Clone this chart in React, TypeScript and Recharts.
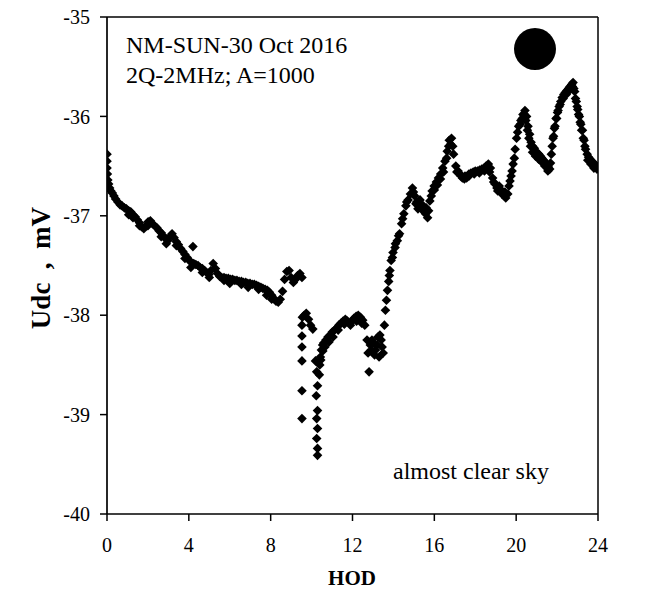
import React from 'react'
import {
  ScatterChart,
  Scatter,
  XAxis,
  YAxis,
  ReferenceLine,
} from 'recharts'

// hour of day, Udc (mV)
const morningPoints: [number, number][] = [
  [0.0, -36.38], [0.0, -36.45], [0.0, -36.52], [0.02, -36.58], [0.04, -36.64],
  [0.08, -36.68], [0.13, -36.72], [0.19, -36.75], [0.26, -36.77], [0.34, -36.8],
  [0.42, -36.83], [0.53, -36.86], [0.64, -36.89], [0.74, -36.9], [0.85, -36.92],
  [0.95, -36.93], [1.06, -36.95], [1.16, -36.96], [1.27, -36.99], [1.38, -37.01],
  [1.48, -37.04], [1.59, -37.07], [1.69, -37.11], [1.8, -37.13], [1.91, -37.1],
  [2.01, -37.06], [2.12, -37.05], [2.22, -37.08], [2.33, -37.1], [2.44, -37.12],
  [2.54, -37.15], [2.65, -37.17], [2.75, -37.2], [2.86, -37.23], [2.97, -37.25],
  [3.07, -37.21], [3.18, -37.18], [3.28, -37.22], [3.39, -37.26], [3.49, -37.29],
  [3.6, -37.33], [3.71, -37.36], [3.81, -37.39], [3.92, -37.42], [4.02, -37.45],
  [4.13, -37.47], [4.2, -37.31], [4.24, -37.48], [4.34, -37.49], [4.45, -37.5],
  [4.55, -37.52], [4.66, -37.53], [4.77, -37.55], [4.87, -37.57], [4.98, -37.59],
  [5.08, -37.55], [5.19, -37.48], [5.3, -37.53], [5.4, -37.58], [5.51, -37.61],
  [5.61, -37.62], [5.72, -37.62], [5.82, -37.63], [5.93, -37.63], [6.04, -37.64],
  [6.14, -37.64], [6.25, -37.65], [6.35, -37.65], [6.46, -37.66], [6.57, -37.66],
  [6.67, -37.67], [6.78, -37.67], [6.88, -37.68], [6.99, -37.68], [7.1, -37.69],
  [7.2, -37.69], [7.31, -37.7], [7.41, -37.71], [7.52, -37.72], [7.62, -37.73],
  [7.73, -37.74], [7.84, -37.75], [7.94, -37.77], [8.05, -37.8], [8.15, -37.83],
  [8.26, -37.86], [8.37, -37.87], [8.47, -37.84], [8.58, -37.76], [8.68, -37.64],
  [8.79, -37.56], [8.9, -37.55], [9.0, -37.62], [9.11, -37.67], [9.21, -37.64],
  [9.32, -37.6], [9.43, -37.58], [9.53, -37.62],
]

// extra morning scatter below the main band
const morningLower: [number, number][] = [
  [1.06, -36.99], [1.27, -37.02], [1.59, -37.1], [2.0, -37.1], [2.65, -37.21],
  [2.9, -37.28], [3.39, -37.3], [3.81, -37.43], [4.1, -37.52], [4.66, -37.57],
  [5.0, -37.62], [5.72, -37.65], [6.0, -37.68], [6.57, -37.69], [6.9, -37.72],
  [7.41, -37.74], [7.8, -37.8], [8.05, -37.84],
]

const dipPoints: [number, number][] = [
  [9.55, -38.02], [9.53, -38.1], [9.53, -38.21], [9.53, -38.32], [9.53, -38.46],
  [9.53, -38.76], [9.53, -39.04], [9.64, -38.0], [9.74, -37.98], [9.85, -38.04],
  [9.95, -38.1], [10.06, -38.14], [10.19, -38.46], [10.25, -38.57], [10.29, -38.71],
  [10.23, -38.81], [10.29, -38.96], [10.25, -39.04], [10.29, -39.14], [10.25, -39.24],
  [10.29, -39.34], [10.29, -39.41], [10.38, -38.6], [10.4, -38.5], [10.43, -38.42],
  [10.48, -38.35], [10.54, -38.3], [10.59, -38.28], [10.7, -38.25], [10.8, -38.22],
  [10.91, -38.2], [11.01, -38.17], [11.12, -38.15], [11.23, -38.13], [11.33, -38.1],
  [11.44, -38.08], [11.54, -38.06], [11.65, -38.04], [11.75, -38.06], [11.86, -38.08],
  [11.97, -38.06], [12.07, -38.03], [12.18, -38.01], [12.28, -38.0], [12.39, -38.02],
  [12.5, -38.05], [12.6, -38.1], [12.71, -38.25], [12.76, -38.38], [12.81, -38.57],
  [12.87, -38.3], [12.92, -38.35], [13.03, -38.28], [13.13, -38.35], [13.24, -38.22],
  [13.34, -38.2], [13.45, -38.32], [13.5, -38.38],
]

// extra scatter around the midday recovery
const dipExtra: [number, number][] = [
  [10.45, -38.45], [10.55, -38.36], [10.65, -38.32], [10.85, -38.27], [11.05, -38.22],
  [11.3, -38.15], [11.6, -38.09], [11.9, -38.1], [12.2, -38.06], [12.45, -38.08],
  [12.95, -38.25], [13.08, -38.4], [13.2, -38.3], [13.3, -38.42], [13.4, -38.25],
]

const afternoonPoints: [number, number][] = [
  [13.56, -38.1], [13.61, -37.95], [13.66, -37.85], [13.71, -37.75], [13.77, -37.66],
  [13.83, -37.55], [13.89, -37.45], [13.98, -37.37], [14.08, -37.32], [14.19, -37.25],
  [14.3, -37.18], [14.4, -37.08], [14.51, -36.98], [14.61, -36.9], [14.72, -36.84],
  [14.83, -36.78], [14.93, -36.72], [15.04, -36.8], [15.14, -36.86], [15.25, -36.88],
  [15.36, -36.92], [15.46, -36.9], [15.57, -36.98], [15.67, -37.02], [15.78, -36.85],
  [15.89, -36.75], [15.99, -36.7], [16.1, -36.66], [16.2, -36.62], [16.31, -36.58],
  [16.41, -36.52], [16.52, -36.45], [16.63, -36.35], [16.73, -36.24], [16.84, -36.22],
  [16.94, -36.38], [17.05, -36.5], [17.16, -36.55], [17.26, -36.58], [17.37, -36.62],
  [17.47, -36.63], [17.58, -36.62], [17.69, -36.58], [17.79, -36.57], [17.9, -36.56],
  [18.0, -36.55], [18.11, -36.55], [18.21, -36.54], [18.32, -36.53], [18.43, -36.52],
  [18.53, -36.5], [18.64, -36.48], [18.74, -36.52], [18.85, -36.62], [18.96, -36.68],
  [19.06, -36.72], [19.17, -36.7], [19.27, -36.74], [19.38, -36.78], [19.49, -36.82],
  [19.59, -36.78], [19.7, -36.65], [19.8, -36.55], [19.91, -36.42], [20.02, -36.22],
  [20.12, -36.1], [20.23, -36.04], [20.33, -35.98], [20.43, -35.94], [20.51, -36.0],
  [20.58, -36.1], [20.66, -36.18], [20.73, -36.26], [20.81, -36.3], [20.89, -36.32],
  [20.96, -36.35], [21.04, -36.37], [21.11, -36.38], [21.19, -36.4], [21.26, -36.42],
  [21.34, -36.44], [21.42, -36.46], [21.49, -36.48], [21.57, -36.51], [21.64, -36.53],
  [21.72, -36.38], [21.8, -36.22], [21.87, -36.12], [21.95, -36.02], [22.02, -35.96],
  [22.1, -35.9], [22.18, -35.85], [22.25, -35.81], [22.33, -35.78], [22.4, -35.76],
  [22.48, -35.74], [22.56, -35.72], [22.63, -35.7], [22.71, -35.68], [22.78, -35.66],
  [22.86, -35.75], [22.94, -35.85], [23.01, -35.93], [23.09, -36.0], [23.16, -36.08],
  [23.24, -36.14], [23.32, -36.24], [23.39, -36.33], [23.47, -36.38], [23.54, -36.41],
  [23.62, -36.43], [23.7, -36.45], [23.77, -36.47], [23.85, -36.48], [23.92, -36.5],
  [24.0, -36.51],
]

// extra afternoon scatter that thickens the band
const afternoonExtra: [number, number][] = [
  [13.8, -37.6], [13.95, -37.42], [14.1, -37.28], [14.25, -37.2], [14.45, -37.03],
  [14.65, -36.86], [14.98, -36.76], [15.1, -36.88], [15.2, -36.93], [15.3, -36.84],
  [15.45, -36.95], [15.6, -36.92], [15.72, -36.95], [15.85, -36.8], [16.0, -36.74],
  [16.15, -36.69], [16.3, -36.63], [16.45, -36.56], [16.6, -36.42], [16.7, -36.3],
  [16.8, -36.28], [16.9, -36.3], [17.1, -36.56], [17.3, -36.6], [17.5, -36.6],
  [17.7, -36.6], [17.95, -36.58], [18.2, -36.57], [18.45, -36.55], [18.7, -36.56],
  [18.9, -36.66], [19.1, -36.75], [19.3, -36.78], [19.45, -36.76], [19.65, -36.7],
  [19.75, -36.6], [19.85, -36.48], [19.95, -36.33], [20.07, -36.16], [20.2, -36.08],
  [20.3, -36.02], [20.4, -35.98], [20.47, -36.04], [20.55, -36.14], [20.62, -36.22],
  [20.7, -36.3], [20.8, -36.36], [20.95, -36.4], [21.1, -36.43], [21.25, -36.46],
  [21.4, -36.5], [21.55, -36.55], [21.68, -36.47], [21.76, -36.3], [21.83, -36.2],
  [21.9, -36.1], [21.98, -36.02], [22.05, -35.94], [22.15, -35.88], [22.3, -35.82],
  [22.45, -35.78], [22.6, -35.74], [22.75, -35.7], [22.82, -35.72], [22.9, -35.82],
  [22.98, -35.9], [23.05, -35.98], [23.13, -36.06], [23.2, -36.14], [23.28, -36.22],
  [23.36, -36.3], [23.5, -36.44], [23.65, -36.48], [23.8, -36.52], [23.95, -36.53],
]

const xTicks = [0, 4, 8, 12, 16, 20, 24]
const yTicks = [-40, -39, -38, -37, -36, -35]

const toRows = (pts: [number, number][]) => pts.map(([h, u]) => ({ h, u }))

const FONT = '"Liberation Serif", "Times New Roman", serif'

const Diamond = (props: any) => {
  const { cx, cy } = props
  if (cx == null || cy == null) return null
  const r = 4.8
  return (
    <polygon
      points={`${cx},${cy - r} ${cx + r},${cy} ${cx},${cy + r} ${cx - r},${cy}`}
      fill="#000"
    />
  )
}

export default function App() {
  const W = 652
  const H = 595
  const tickStyle = { fontFamily: FONT, fontSize: 20, fill: '#000' }
  const series = [
    morningPoints,
    morningLower,
    dipPoints,
    dipExtra,
    afternoonPoints,
    afternoonExtra,
  ]

  return (
    <div style={{ position: 'absolute', left: 0, top: 0, width: W, height: H, background: '#fff' }}>
      <ScatterChart width={W} height={H} margin={{ top: 17, right: 54, bottom: 0, left: 0 }}>
        <XAxis
          type="number"
          dataKey="h"
          domain={[0, 24]}
          ticks={xTicks}
          allowDataOverflow
          height={81}
          tick={tickStyle}
          tickSize={7}
          tickMargin={17}
          axisLine={{ stroke: '#000', strokeWidth: 1.7 }}
          tickLine={{ stroke: '#000', strokeWidth: 1.5 }}
        />
        <YAxis
          type="number"
          dataKey="u"
          domain={[-40, -35]}
          ticks={yTicks}
          allowDataOverflow
          width={107}
          tick={tickStyle}
          tickSize={7}
          tickMargin={10}
          axisLine={{ stroke: '#000', strokeWidth: 1.7 }}
          tickLine={{ stroke: '#000', strokeWidth: 1.5 }}
        />
        <ReferenceLine y={-35} stroke="#000" strokeWidth={1.5} />
        <ReferenceLine x={24} stroke="#000" strokeWidth={1.5} />
        {series.map((pts, i) => (
          <Scatter
            key={i}
            data={toRows(pts)}
            fill="#000"
            shape={<Diamond />}
            isAnimationActive={false}
          />
        ))}
      </ScatterChart>
      <svg
        width={W}
        height={H}
        style={{ position: 'absolute', left: 0, top: 0, pointerEvents: 'none' }}
      >
        <text x={126} y={53} fontFamily={FONT} fontSize={24} fill="#000">
          NM-SUN-30 Oct 2016
        </text>
        <text x={126} y={83} fontFamily={FONT} fontSize={24} fill="#000">
          2Q-2MHz; A=1000
        </text>
        <circle cx={535} cy={49} r={21} fill="#000" />
        <text x={393} y={479} fontFamily={FONT} fontSize={24} fill="#000">
          almost clear sky
        </text>
        <text
          x={352}
          y={585}
          textAnchor="middle"
          fontFamily={FONT}
          fontSize={21}
          fontWeight="bold"
          fill="#000"
        >
          HOD
        </text>
        <text
          transform="translate(50, 268) rotate(-90)"
          textAnchor="middle"
          fontFamily={FONT}
          fontSize={27}
          fontWeight="bold"
          fill="#000"
          style={{ whiteSpace: 'pre' }}
        >
          {'Udc  ,  mV'}
        </text>
      </svg>
    </div>
  )
}
